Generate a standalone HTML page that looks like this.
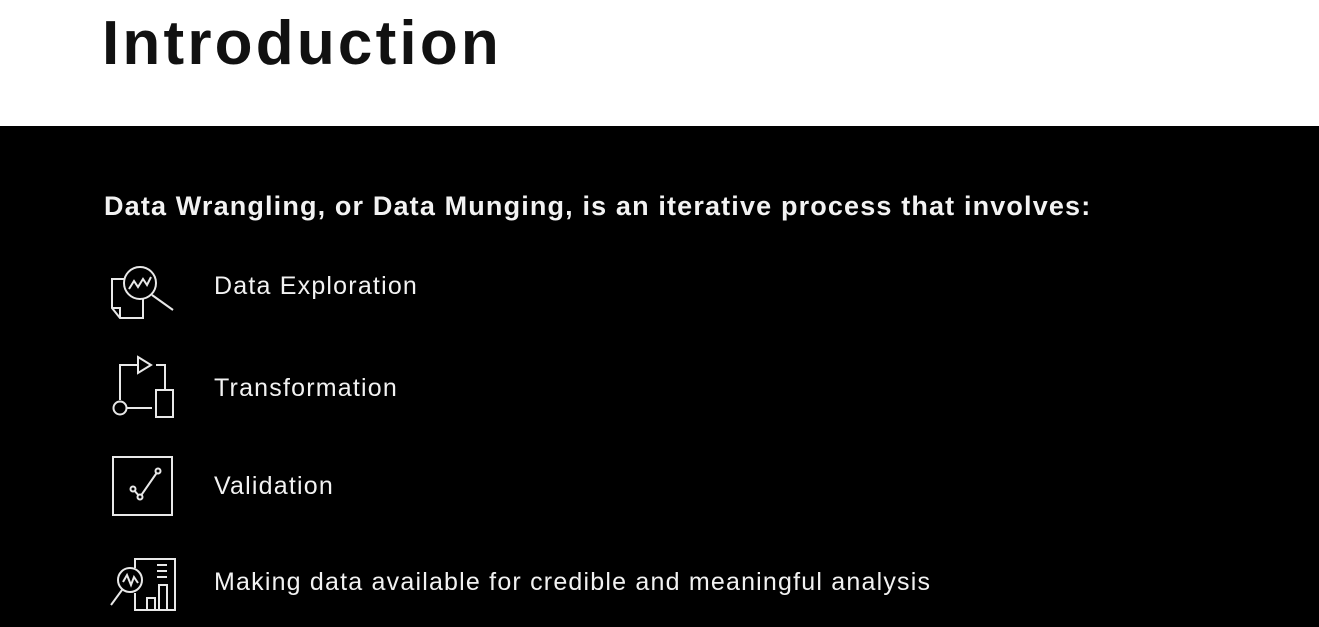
<!DOCTYPE html>
<html><head><style>
body{margin:0;width:1319px;height:627px;overflow:hidden;background:#fff;font-family:"Liberation Sans",sans-serif}
.top{position:absolute;left:0;top:0;width:1319px;height:126px;background:#fff}
h1{position:absolute;left:102px;top:8px;margin:0;font-size:62px;font-weight:bold;color:#111;letter-spacing:3.2px}
.bk{position:absolute;left:0;top:126px;width:1319px;height:501px;background:#000}
.t{position:absolute;color:#f2f2f2;white-space:nowrap}
.sub{left:104px;top:191px;font-size:27px;font-weight:bold;letter-spacing:1.15px}
.it{left:214px;font-size:25px;letter-spacing:1.2px}
</style></head><body>
<div class="top"><h1>Introduction</h1></div>
<div class="bk"></div>
<div class="t sub">Data Wrangling, or Data Munging, is an iterative process that involves:</div>
<div class="t it" style="top:272px">Data Exploration</div>
<div class="t it" style="top:374px">Transformation</div>
<div class="t it" style="top:472px">Validation</div>
<div class="t it" style="top:568px">Making data available for credible and meaningful analysis</div>
<svg width="1319" height="627" style="position:absolute;left:0;top:0" fill="none" stroke="#e8e8e8" stroke-width="2">
<circle cx="140" cy="283" r="16"/>
<line x1="152" y1="295" x2="173" y2="310"/>
<polyline points="129,289 134,281 138,287 143,279 147,285 151,277"/>
<path d="M124,279 H112 V308 L120,318 H143 V299"/>
<path d="M112,308 H120 V318"/>
<path d="M120,400 V365 H137"/>
<polygon points="138,357 151,365 138,373"/>
<path d="M156,365 H165 V390"/>
<rect x="156" y="390" width="17" height="27"/>
<circle cx="120" cy="408" r="6.5"/>
<line x1="127" y1="408" x2="152" y2="408"/>
<rect x="113" y="457" width="59" height="58"/>
<polyline points="133,489 140,497 158,471"/>
<circle cx="133" cy="489" r="2.5" fill="#000"/>
<circle cx="140" cy="497" r="2.5" fill="#000"/>
<circle cx="158" cy="471" r="2.5" fill="#000"/>
<path d="M135,568 V559 H175 V610 H135 V593"/>
<circle cx="130" cy="580" r="12"/>
<polyline points="123,582 127,575 131,585 134,577 138,583"/>
<line x1="122" y1="590" x2="111" y2="605"/>
<line x1="157" y1="565" x2="167" y2="565"/>
<line x1="157" y1="571" x2="167" y2="571"/>
<line x1="157" y1="577" x2="167" y2="577"/>
<rect x="147" y="598" width="8" height="12"/>
<rect x="159" y="585" width="8" height="25"/>
</svg>
</body></html>
